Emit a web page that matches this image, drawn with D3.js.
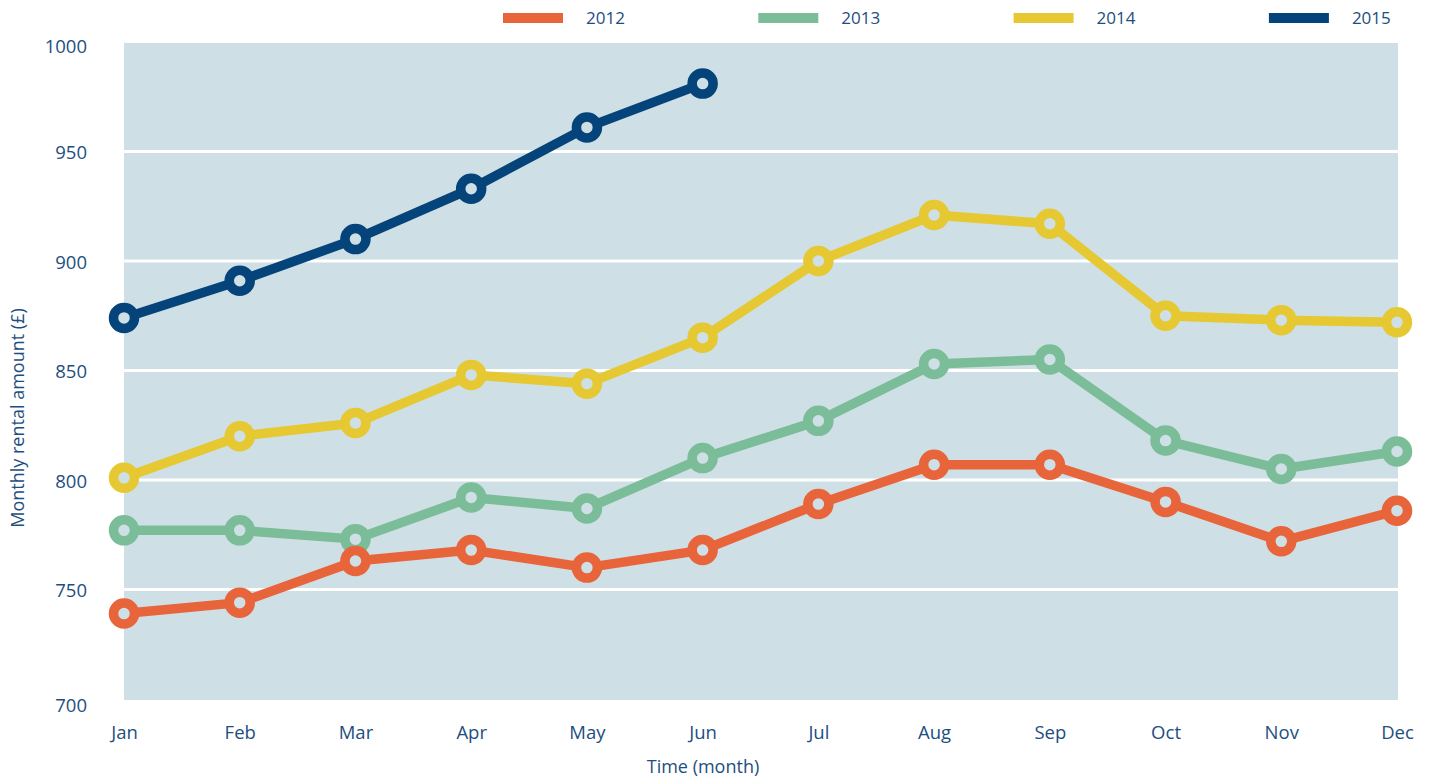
<!DOCTYPE html>
<html>
<head>
<meta charset="utf-8">
<script src="https://cdn.jsdelivr.net/npm/d3@7"></script>
<style>
	body { margin: 0; background: #fff; }
	text { font-family: "Open Sans", sans-serif; fill: #1d4e80; }
</style>
</head>
<body>
<div id="chart-area"></div>
<script>
// data
var months = ['Jan', 'Feb', 'Mar', 'Apr', 'May', 'Jun', 'Jul', 'Aug', 'Sep', 'Oct', 'Nov', 'Dec'];
var years = ['2012', '2013', '2014', '2015'];
var rent2012 = [739, 744, 763, 768, 760, 768, 789, 807, 807, 790, 772, 786];
var rent2013 = [777, 777, 773, 792, 787, 810, 827, 853, 855, 818, 805, 813];
var rent2014 = [801, 820, 826, 848, 844, 865, 900, 921, 917, 875, 873, 872];
var rent2015 = [874, 891, 910, 933, 961, 981];
var yTicks = [700, 750, 800, 850, 900, 950, 1000];
var colors = ['#e8643a', '#7bbd98', '#e5c832', '#04447a'];

var series = [rent2012, rent2013, rent2014, rent2015];
var bg = '#cfdfe6';

var width = 1432, height = 780;

var svg = d3.select('#chart-area')
	.append('svg')
	.attr('width', width)
	.attr('height', height);

var x = d3.scalePoint().domain(months).range([124, 1397]);
var y = d3.scaleLinear().domain([700, 1000]).range([699, 42]);

// plot background
svg.append('rect')
	.attr('x', x('Jan'))
	.attr('y', y(1000) + 1)
	.attr('width', x('Dec') - x('Jan') + 1)
	.attr('height', y(700) - y(1000))
	.attr('fill', bg);

// gridlines
svg.selectAll('.grid')
	.data(yTicks.filter(d => d > 700 && d < 1000))
	.enter().append('line')
	.attr('x1', x('Jan')).attr('x2', x('Dec') + 1)
	.attr('y1', d => y(d)).attr('y2', d => y(d))
	.attr('stroke', '#fff')
	.attr('stroke-width', 3);

// y axis
var yAxis = d3.axisLeft(y).tickValues(yTicks).tickFormat(d3.format('d')).tickSize(0).tickPadding(37);
svg.append('g')
	.attr('transform', 'translate(' + x('Jan') + ',0)')
	.call(yAxis)
	.call(g => g.select('.domain').remove())
	.selectAll('text')
	.attr('font-size', '18.5px')
	.attr('font-family', '"Open Sans", sans-serif')
	.attr('dy', d => d == 1000 ? '0.55em' : d == 700 ? '0.7em' : '0.4em');

// x axis
var xAxis = d3.axisBottom(x).tickSize(0).tickPadding(27);
svg.append('g')
	.attr('transform', 'translate(0,' + y(700) + ')')
	.call(xAxis)
	.call(g => g.select('.domain').remove())
	.selectAll('text')
	.attr('font-size', '18.5px')
	.attr('font-family', '"Open Sans", sans-serif');

// axis titles
svg.append('text')
	.attr('x', 703)
	.attr('y', 773)
	.attr('text-anchor', 'middle')
	.attr('font-size', '18px')
	.text('Time (month)');

svg.append('text')
	.attr('transform', 'translate(24,418) rotate(-90)')
	.attr('text-anchor', 'middle')
	.attr('font-size', '18px')
	.text('Monthly rental amount (£)');

// legend
var legend = svg.selectAll('.legend')
	.data(years)
	.enter().append('g')
	.attr('transform', (d, i) => 'translate(' + (503 + i * 255.3) + ',0)');

legend.append('rect')
	.attr('x', 0).attr('y', 13)
	.attr('width', 60).attr('height', 10)
	.attr('fill', (d, i) => colors[i]);

legend.append('text')
	.attr('x', 83).attr('y', 24)
	.attr('font-size', '17px')
	.text(d => d);

// lines and markers, 2015 first so 2012 ends on top
var line = d3.line()
	.x((d, i) => x(months[i]))
	.y(d => y(d));

for (var s = series.length - 1; s >= 0; s--) {
	var g = svg.append('g');
	g.append('path')
		.datum(series[s])
		.attr('d', line)
		.attr('fill', 'none')
		.attr('stroke', colors[s])
		.attr('stroke-width', 9.5)
		.attr('stroke-linejoin', 'round');
	g.selectAll('circle')
		.data(series[s])
		.enter().append('circle')
		.attr('cx', (d, i) => x(months[i]))
		.attr('cy', d => y(d))
		.attr('r', 10.5)
		.attr('fill', bg)
		.attr('stroke', colors[s])
		.attr('stroke-width', 9.5);
}
</script>
</body>
</html>
